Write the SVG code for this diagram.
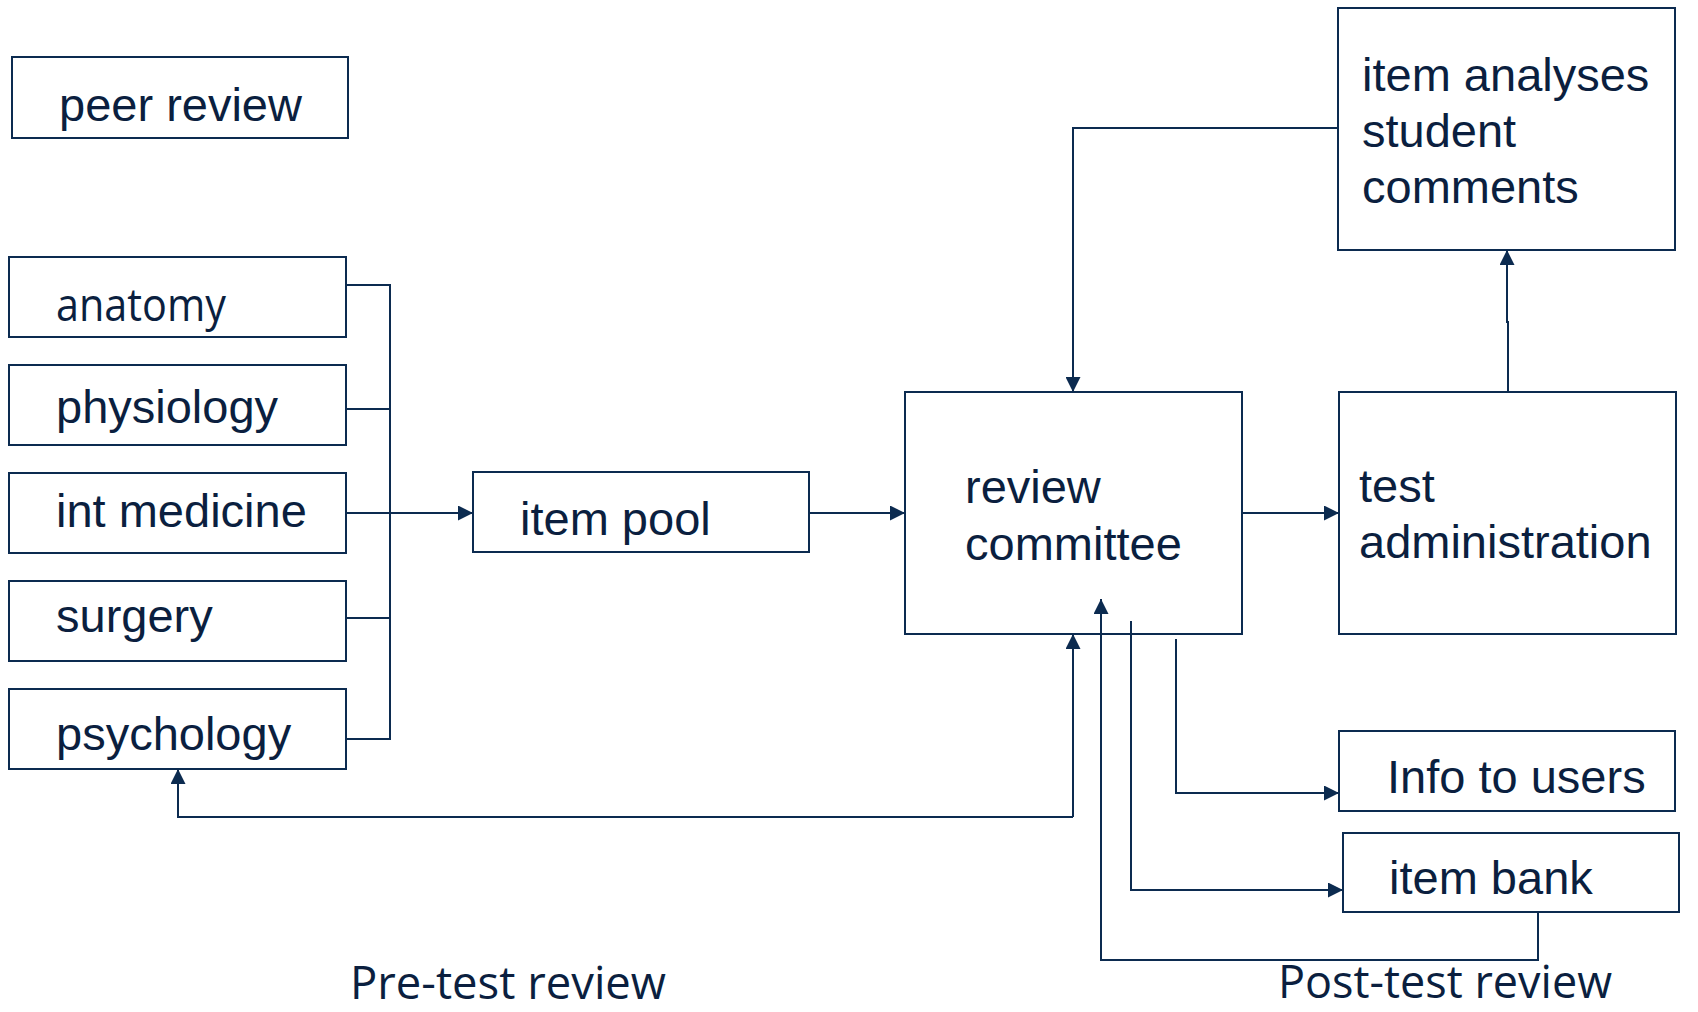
<svg xmlns="http://www.w3.org/2000/svg" width="1698" height="1012" viewBox="0 0 1698 1012">
  <style>
    .box { fill: #ffffff; stroke: #0c2b50; stroke-width: 2; }
    .lbl { font-family: "Liberation Sans", Arial, sans-serif; font-size: 47px; fill: #0b1f3f; }
    .alt { font-family: "Open Sans", "Liberation Sans", sans-serif; fill: #0b1f3f; }
    .wire { fill: none; stroke: #0c2b50; stroke-width: 2; }
    .arrow { marker-end: url(#head); }
  </style>
  <defs>
    <marker id="head" markerUnits="userSpaceOnUse" markerWidth="16" markerHeight="15" refX="15" refY="7.5" orient="auto">
      <path d="M0,0 L15,7.5 L0,15 z" fill="#0c2b50"/>
    </marker>
  </defs>
  <rect width="1698" height="1012" fill="#ffffff"/>

  <g id="peer-review">
    <rect class="box" x="12" y="57" width="336" height="81"/>
    <text class="lbl" x="59" y="121">peer review</text>
  </g>

  <g id="anatomy">
    <rect class="box" x="9" y="257" width="337" height="80"/>
    <text class="alt" x="56" y="321" font-size="45" textLength="170" lengthAdjust="spacingAndGlyphs">anatomy</text>
  </g>
  <g id="physiology">
    <rect class="box" x="9" y="365" width="337" height="80"/>
    <text class="lbl" x="56" y="423">physiology</text>
  </g>
  <g id="int-medicine">
    <rect class="box" x="9" y="473" width="337" height="80"/>
    <text class="lbl" x="56" y="527">int medicine</text>
  </g>
  <g id="surgery">
    <rect class="box" x="9" y="581" width="337" height="80"/>
    <text class="lbl" x="56" y="632">surgery</text>
  </g>
  <g id="psychology">
    <rect class="box" x="9" y="689" width="337" height="80"/>
    <text class="lbl" x="56" y="750">psychology</text>
  </g>

  <g id="item-pool">
    <rect class="box" x="473" y="472" width="336" height="80"/>
    <text class="lbl" x="520" y="535">item pool</text>
  </g>

  <g id="review-committee">
    <rect class="box" x="905" y="392" width="337" height="242"/>
    <text class="lbl" x="965" y="503">review</text>
    <text class="lbl" x="965" y="560">committee</text>
  </g>

  <g id="item-analyses">
    <rect class="box" x="1338" y="8" width="337" height="242"/>
    <text class="lbl" x="1362" y="91">item analyses</text>
    <text class="lbl" x="1362" y="147">student</text>
    <text class="lbl" x="1362" y="203">comments</text>
  </g>

  <g id="test-administration">
    <rect class="box" x="1339" y="392" width="337" height="242"/>
    <text class="lbl" x="1359" y="502">test</text>
    <text class="lbl" x="1359" y="558">administration</text>
  </g>

  <g id="info-to-users">
    <rect class="box" x="1339" y="731" width="336" height="80"/>
    <text class="lbl" x="1387" y="793">Info to users</text>
  </g>

  <g id="item-bank">
    <rect class="box" x="1343" y="833" width="336" height="79"/>
    <text class="lbl" x="1389" y="894">item bank</text>
  </g>

  <g id="captions">
    <text class="alt" x="350" y="999" font-size="45" textLength="316" lengthAdjust="spacingAndGlyphs">Pre-test review</text>
    <text class="alt" x="1278" y="998" font-size="46" textLength="334" lengthAdjust="spacingAndGlyphs">Post-test review</text>
  </g>

  <g id="connectors">
    <!-- subject boxes feed a common bus -->
    <path class="wire" d="M346,285 H390 V739 H346"/>
    <path class="wire" d="M346,409 H390"/>
    <path class="wire" d="M346,618 H390"/>
    <path class="wire arrow" d="M346,513 H473" stroke-width="3"/>
    <!-- item pool to review committee -->
    <path class="wire arrow" d="M809,513 H905"/>
    <!-- review committee to test administration -->
    <path class="wire arrow" d="M1242,513 H1339"/>
    <!-- test administration up to item analyses -->
    <path class="wire arrow" d="M1508,392 V322 H1507 V250"/>
    <!-- item analyses back to review committee -->
    <path class="wire arrow" d="M1338,128 H1073 V392"/>
    <!-- review committee back to subject boxes -->
    <path class="wire arrow" d="M1073,817 H178 V769"/>
    <path class="wire arrow" d="M1073,817 V634"/>
    <!-- outputs of the committee -->
    <path class="wire arrow" d="M1176,639 V793 H1339"/>
    <path class="wire arrow" d="M1131,621 V890 H1343"/>
    <!-- item bank feedback -->
    <path class="wire arrow" d="M1538,912 V960 H1101 V599"/>
  </g>
</svg>
